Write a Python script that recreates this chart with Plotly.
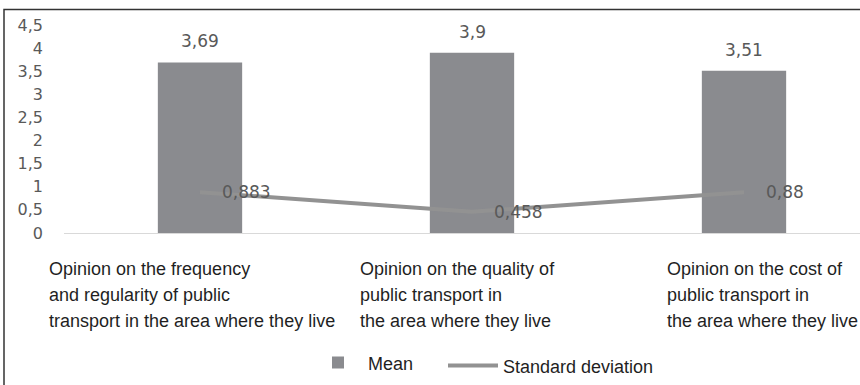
import plotly.graph_objects as go

categories = ["freq", "quality", "cost"]
category_lines = [
    ["Opinion on the frequency", "and regularity of public", "transport in the area where they live"],
    ["Opinion on the quality of", "public transport in", "the area where they live"],
    ["Opinion on the cost of", "public transport in", "the area where they live"],
]
mean_values = [3.69, 3.9, 3.51]
std_values = [0.883, 0.458, 0.88]
series_names = ["Mean", "Standard deviation"]

def fmt(v):
    return str(v).replace(".", ",")

W, H = 860, 385
L, R, T, B = 64, 0, 25, 147
pw, ph = W - L - R, H - T - B

xs = list(range(len(categories)))
fig = go.Figure()
fig.add_trace(go.Bar(x=xs, y=mean_values, name=series_names[0],
                     marker=dict(color="#8a8b8f", line=dict(width=0)),
                     width=0.31, legend="legend"))
fig.add_trace(go.Scatter(x=xs, y=std_values, name=series_names[1], mode="lines",
                         line=dict(color="#929292", width=4), legend="legend2"))

ann = []
for i, v in enumerate(mean_values):
    ann.append(dict(x=i, y=v, xref="x", yref="y", text=fmt(v), showarrow=False,
                    yanchor="bottom", yshift=9,
                    font=dict(family="DejaVu Sans", size=17, color="#595959")))
for i, v in enumerate(std_values):
    ann.append(dict(x=i, y=v, xref="x", yref="y", text=fmt(v), showarrow=False,
                    xanchor="left", yanchor="middle", xshift=20,
                    font=dict(family="DejaVu Sans", size=17, color="#595959")))
label_shift = [-153, -114, -79]
for i, lines in enumerate(category_lines):
    for j, line in enumerate(lines):
        ypix = 275 + j * 26.5
        ann.append(dict(x=i, y=(T + ph - ypix) / ph, xref="x", yref="paper", text=line,
                        showarrow=False, xanchor="left", yanchor="middle",
                        xshift=label_shift[i],
                        font=dict(family="Liberation Sans", size=18, color="#1f1f1f")))

leg_common = dict(orientation="h", xanchor="left", yanchor="middle", itemwidth=50,
                  font=dict(family="Liberation Sans", size=18, color="#1f1f1f"),
                  bgcolor="rgba(0,0,0,0)")

fig.update_layout(
    width=W, height=H,
    margin=dict(l=L, r=R, t=T, b=B),
    paper_bgcolor="white", plot_bgcolor="white",
    separators=", ",
    bargap=0.69,
    annotations=ann,
    showlegend=True,
    legend=dict(x=(308 - L) / pw, y=(T + ph - 371) / ph, **leg_common),
    legend2=dict(x=(443 - L) / pw, y=(T + ph - 374) / ph, **leg_common),
    xaxis=dict(range=[-0.5, -0.5 + pw / 272.0], showticklabels=False, showgrid=False,
               zeroline=False, showline=True, linecolor="#d9d9d9", linewidth=1,
               ticks=""),
    yaxis=dict(range=[0, 4.5], dtick=0.5, showgrid=False, zeroline=False,
               showline=False, ticks="", ticklabelstandoff=20,
               tickfont=dict(family="DejaVu Sans", size=16, color="#595959")),
    shapes=[dict(type="rect", xref="paper", yref="paper",
                 x0=(4 - L) / pw, x1=1.05, y0=-0.8, y1=(T + ph - 9) / ph,
                 line=dict(color="#333333", width=1.5), fillcolor="rgba(0,0,0,0)")],
)

fig.write_html("out.html")
